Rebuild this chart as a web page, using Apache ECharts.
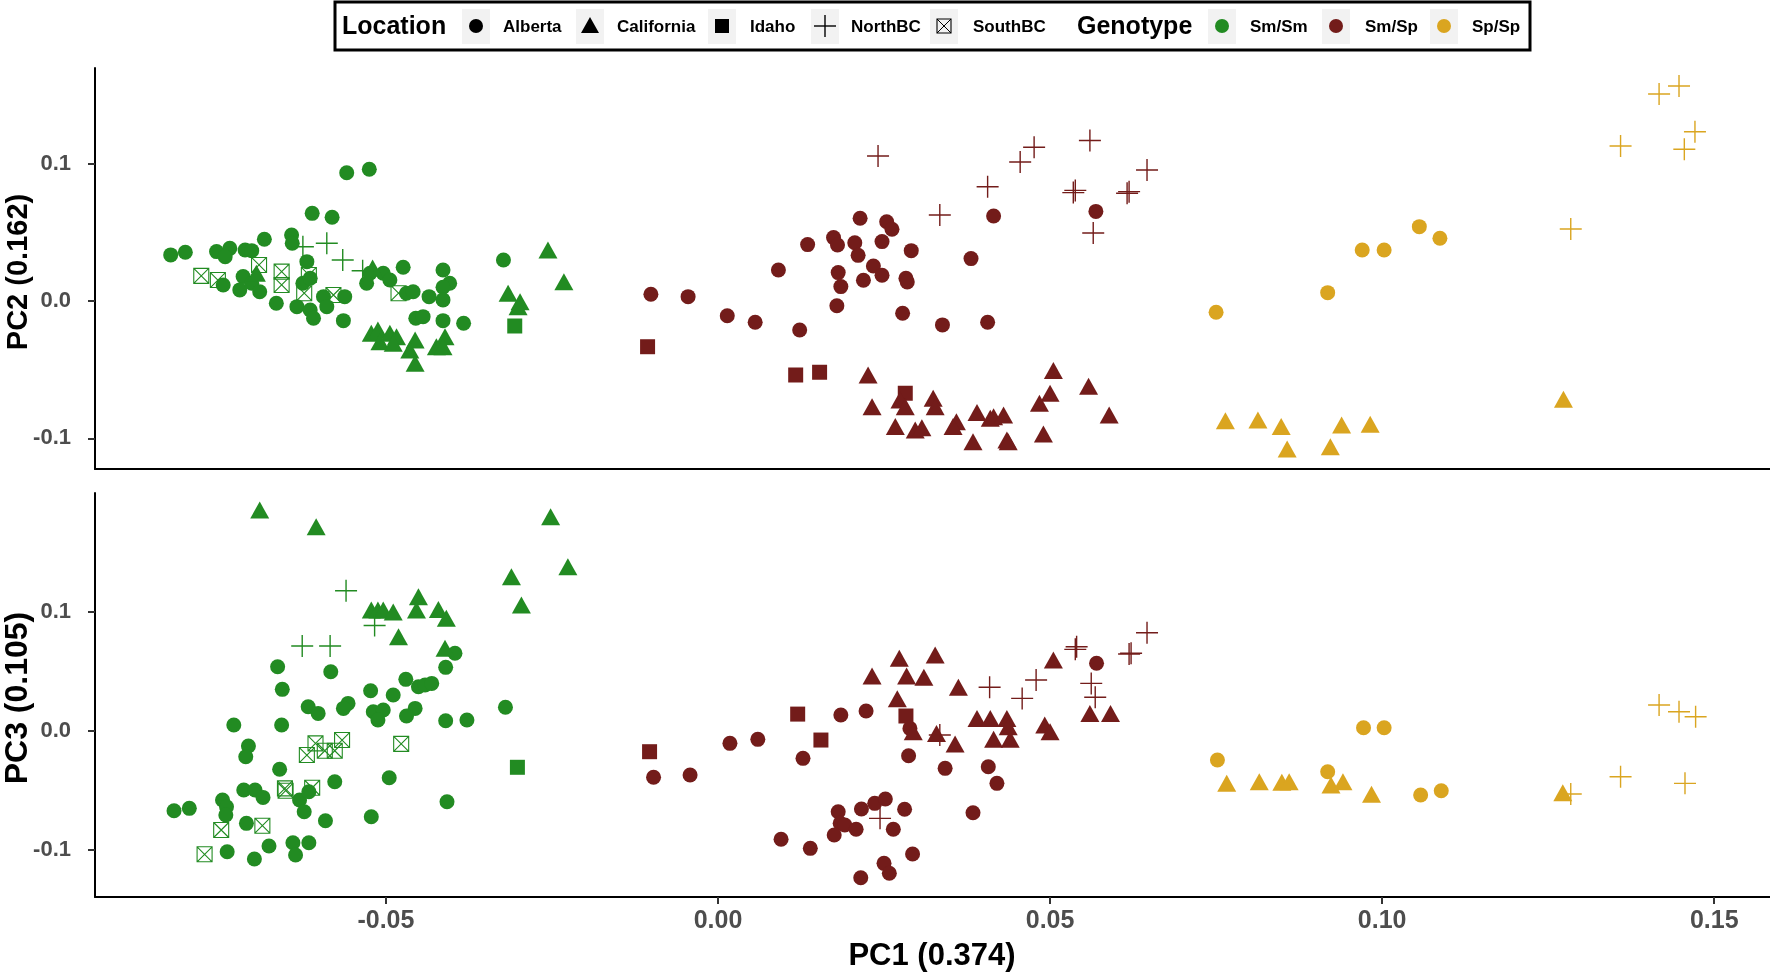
<!DOCTYPE html>
<html><head><meta charset="utf-8">
<script src="https://cdn.jsdelivr.net/npm/echarts@6/dist/echarts.min.js"></script>
<style>html,body{margin:0;padding:0;background:#fff}#c{width:1770px;height:974px}</style>
</head><body><div id="c"></div>
<script>
// ---- categories ----
const genotypes = ['Sm/Sm', 'Sm/Sp', 'Sp/Sp'];
const locations = ['Alberta', 'California', 'Idaho', 'NorthBC', 'SouthBC'];
const xTicks = [-0.05, 0.00, 0.05, 0.10, 0.15];
const yTicksTop = [-0.1, 0.0, 0.1];
const yTicksBot = [-0.1, 0.0, 0.1];
const axisTitles = ['PC1 (0.374)', 'PC2 (0.162)', 'PC3 (0.105)'];

// ---- top panel: [PC1, PC2] ----
const top_SmSm_Alberta = [[-0.0559,0.0936],[-0.0525,0.0961],[-0.0611,0.0640],[-0.0581,0.0611],[-0.0683,0.0451],[-0.0642,0.0482],[-0.0641,0.0422],[-0.0824,0.0337],[-0.0802,0.0356],[-0.0755,0.0361],[-0.0735,0.0385],[-0.0712,0.0373],[-0.0702,0.0368],[-0.0742,0.0324],[-0.0619,0.0288],[-0.0745,0.0118],[-0.0715,0.0179],[-0.0720,0.0082],[-0.0702,0.0130],[-0.0690,0.0069],[-0.0665,-0.0015],[-0.0625,0.0130],[-0.0614,0.0167],[-0.0634,-0.0040],[-0.0614,-0.0064],[-0.0609,-0.0125],[-0.0594,0.0033],[-0.0589,-0.0040],[-0.0562,0.0033],[-0.0564,-0.0142],[-0.0524,0.0203],[-0.0504,0.0203],[-0.0494,0.0154],[-0.0529,0.0130],[-0.0474,0.0247],[-0.0414,0.0227],[-0.0404,0.0130],[-0.0414,0.0101],[-0.0414,0.0009],[-0.0435,0.0033],[-0.0469,0.0058],[-0.0459,0.0069],[-0.0455,-0.0125],[-0.0444,-0.0113],[-0.0414,-0.0142],[-0.0383,-0.0161],[-0.0323,0.0300]];
const top_SmSm_California = [[-0.0695,0.0203],[-0.0522,-0.0234],[-0.0512,-0.0210],[-0.0509,-0.0295],[-0.0494,-0.0234],[-0.0484,-0.0259],[-0.0489,-0.0307],[-0.0456,-0.0283],[-0.0464,-0.0356],[-0.0456,-0.0452],[-0.0424,-0.0332],[-0.0411,-0.0259],[-0.0414,-0.0332],[-0.0256,0.0373],[-0.0232,0.0142],[-0.0316,0.0058],[-0.0298,-0.0004],[-0.0301,-0.0040],[-0.0520,0.0242]];
const top_SmSm_Idaho = [[-0.0306,-0.0181]];
const top_SmSm_NorthBC = [[-0.0625,0.0397],[-0.0589,0.0422],[-0.0565,0.0300],[-0.0535,0.0222]];
const top_SmSm_SouthBC = [[-0.0778,0.0184],[-0.0753,0.0154],[-0.0691,0.0264],[-0.0657,0.0215],[-0.0657,0.0118],[-0.0616,0.0191],[-0.0623,0.0058],[-0.0579,0.0045],[-0.0481,0.0058]];
const top_SmSp_Alberta = [[-0.0101,0.0050],[-0.0045,0.0033],[0.0014,-0.0106],[0.0056,-0.0154],[0.0123,-0.0210],[0.0091,0.0227],[0.0135,0.0412],[0.0214,0.0604],[0.0254,0.0579],[0.0262,0.0524],[0.0174,0.0463],[0.0180,0.0409],[0.0206,0.0426],[0.0211,0.0334],[0.0247,0.0434],[0.0234,0.0256],[0.0247,0.0189],[0.0219,0.0152],[0.0181,0.0208],[0.0185,0.0106],[0.0179,-0.0033],[0.0291,0.0368],[0.0283,0.0167],[0.0285,0.0140],[0.0381,0.0310],[0.0415,0.0621],[0.0278,-0.0088],[0.0338,-0.0173],[0.0406,-0.0154],[0.0569,0.0654]];
const top_SmSp_California = [[0.0226,-0.0538],[0.0232,-0.0769],[0.0274,-0.0720],[0.0282,-0.0769],[0.0324,-0.0707],[0.0327,-0.0769],[0.0267,-0.0914],[0.0297,-0.0938],[0.0307,-0.0922],[0.0359,-0.0878],[0.0354,-0.0914],[0.0390,-0.0812],[0.0410,-0.0853],[0.0415,-0.0842],[0.0430,-0.0829],[0.0384,-0.1024],[0.0435,-0.1011],[0.0437,-0.1024],[0.0505,-0.0506],[0.0500,-0.0671],[0.0484,-0.0744],[0.0490,-0.0968],[0.0558,-0.0620],[0.0589,-0.0829]];
const top_SmSp_Idaho = [[-0.0106,-0.0332],[0.0117,-0.0538],[0.0153,-0.0518],[0.0282,-0.0671]];
const top_SmSp_NorthBC = [[0.0241,0.1058],[0.0406,0.0834],[0.0455,0.1014],[0.0476,0.1121],[0.0560,0.1171],[0.0535,0.0791],[0.0538,0.0807],[0.0565,0.0497],[0.0619,0.0798],[0.0616,0.0786],[0.0646,0.0956],[0.0334,0.0628]];
const top_SpSp_Alberta = [[0.0750,-0.0081],[0.0918,0.0062],[0.0970,0.0373],[0.1003,0.0373],[0.1056,0.0543],[0.1087,0.0458]];
const top_SpSp_California = [[0.0764,-0.0871],[0.0813,-0.0866],[0.0848,-0.0914],[0.0857,-0.1077],[0.0922,-0.1060],[0.0939,-0.0902],[0.0982,-0.0897],[0.1273,-0.0715]];
const top_SpSp_NorthBC = [[0.1417,0.1510],[0.1447,0.1568],[0.1359,0.1131],[0.1471,0.1235],[0.1455,0.1107],[0.1284,0.0526]];

// ---- bottom panel: [PC1, PC3] ----
const bot_SmSm_Alberta = [[-0.0663,0.0537],[-0.0583,0.0495],[-0.0656,0.0347],[-0.0617,0.0201],[-0.0602,0.0145],[-0.0557,0.0229],[-0.0564,0.0187],[-0.0523,0.0335],[-0.0489,0.0299],[-0.0519,0.0159],[-0.0504,0.0173],[-0.0512,0.0089],[-0.0729,0.0047],[-0.0657,0.0047],[-0.0707,-0.0129],[-0.0711,-0.0219],[-0.0660,-0.0325],[-0.0577,-0.0429],[-0.0714,-0.0499],[-0.0697,-0.0499],[-0.0685,-0.0561],[-0.0819,-0.0673],[-0.0796,-0.0653],[-0.0746,-0.0583],[-0.0740,-0.0639],[-0.0741,-0.0709],[-0.0630,-0.0583],[-0.0623,-0.0682],[-0.0616,-0.0513],[-0.0710,-0.0779],[-0.0591,-0.0757],[-0.0522,-0.0724],[-0.0495,-0.0396],[-0.0739,-0.1018],[-0.0698,-0.1079],[-0.0676,-0.0970],[-0.0640,-0.0942],[-0.0636,-0.1045],[-0.0616,-0.0942],[-0.0396,0.0650],[-0.0410,0.0532],[-0.0470,0.0431],[-0.0451,0.0369],[-0.0441,0.0383],[-0.0431,0.0397],[-0.0456,0.0187],[-0.0469,0.0123],[-0.0410,0.0083],[-0.0378,0.0089],[-0.0320,0.0196],[-0.0408,-0.0597]];
const bot_SmSm_California = [[-0.0690,0.1854],[-0.0605,0.1713],[-0.0522,0.1013],[-0.0512,0.1013],[-0.0504,0.1013],[-0.0489,0.0997],[-0.0481,0.0789],[-0.0451,0.1125],[-0.0454,0.1013],[-0.0421,0.1019],[-0.0409,0.0944],[-0.0411,0.0692],[-0.0252,0.1797],[-0.0226,0.1377],[-0.0311,0.1293],[-0.0296,0.1055]];
const bot_SmSm_Idaho = [[-0.0302,-0.0308]];
const bot_SmSm_NorthBC = [[-0.0560,0.1176],[-0.0626,0.0711],[-0.0584,0.0711],[-0.0517,0.0883]];
const bot_SmSm_SouthBC = [[-0.0606,-0.0107],[-0.0619,-0.0205],[-0.0592,-0.0169],[-0.0577,-0.0169],[-0.0566,-0.0079],[-0.0652,-0.0485],[-0.0651,-0.0505],[-0.0611,-0.0480],[-0.0686,-0.0799],[-0.0748,-0.0835],[-0.0773,-0.1039],[-0.0477,-0.0111]];
const bot_SmSp_Alberta = [[-0.0097,-0.0392],[-0.0042,-0.0373],[0.0018,-0.0107],[0.0060,-0.0073],[0.0128,-0.0233],[0.0185,0.0131],[0.0223,0.0165],[0.0287,-0.0211],[0.0289,0.0019],[0.0342,-0.0317],[0.0407,-0.0303],[0.0420,-0.0443],[0.0384,-0.0690],[0.0095,-0.0913],[0.0139,-0.0989],[0.0181,-0.0682],[0.0184,-0.0779],[0.0191,-0.0793],[0.0175,-0.0877],[0.0208,-0.0829],[0.0216,-0.0659],[0.0236,-0.0611],[0.0252,-0.0575],[0.0281,-0.0661],[0.0264,-0.0829],[0.0293,-0.1037],[0.0250,-0.1115],[0.0258,-0.1199],[0.0215,-0.1236],[0.0570,0.0566]];
const bot_SmSp_California = [[0.0273,0.0608],[0.0327,0.0635],[0.0232,0.0459],[0.0284,0.0459],[0.0310,0.0448],[0.0270,0.0268],[0.0362,0.0364],[0.0294,-0.0009],[0.0329,-0.0023],[0.0357,-0.0113],[0.0390,0.0103],[0.0410,0.0103],[0.0435,0.0103],[0.0437,0.0033],[0.0415,-0.0073],[0.0440,-0.0073],[0.0492,0.0047],[0.0500,-0.0009],[0.0505,0.0593],[0.0560,0.0145],[0.0591,0.0145]];
const bot_SmSp_Idaho = [[-0.0103,-0.0177],[0.0120,0.0139],[0.0155,-0.0079],[0.0283,0.0123]];
const bot_SmSp_NorthBC = [[0.0540,0.0705],[0.0538,0.0683],[0.0409,0.0364],[0.0479,0.0425],[0.0458,0.0271],[0.0562,0.0397],[0.0568,0.0280],[0.0334,-0.0037],[0.0244,-0.0737],[0.0646,0.0823],[0.0622,0.0650],[0.0619,0.0644]];
const bot_SpSp_Alberta = [[0.0752,-0.0247],[0.0972,0.0024],[0.1003,0.0024],[0.0918,-0.0345],[0.1058,-0.0541],[0.1089,-0.0505]];
const bot_SpSp_California = [[0.0766,-0.0443],[0.0815,-0.0429],[0.0849,-0.0434],[0.0860,-0.0429],[0.0923,-0.0457],[0.0941,-0.0429],[0.0984,-0.0535],[0.1272,-0.0522]];
const bot_SpSp_NorthBC = [[0.1284,-0.0533],[0.1359,-0.0387],[0.1417,0.0215],[0.1447,0.0159],[0.1472,0.0117],[0.1456,-0.0443]];

// ---- styling ----
const FONT = '"Liberation Sans", Arial, sans-serif';
const genoColor = {'Sm/Sm': '#228B22', 'Sm/Sp': '#731C1A', 'Sp/Sp': '#DAA520'};
const CROSS = 'path://M10,0 L10,20 M0,10 L20,10';
const BOXX = 'path://M0,0 L20,0 L20,20 L0,20 Z M0,0 L20,20 M20,0 L0,20';
const locStyle = {
  Alberta: c => ({symbol: 'circle', symbolSize: 15, itemStyle: {color: c, opacity: 1}}),
  California: c => ({symbol: 'triangle', symbolSize: [19, 17], itemStyle: {color: c, opacity: 1}}),
  Idaho: c => ({symbol: 'rect', symbolSize: 15, itemStyle: {color: c, opacity: 1}}),
  NorthBC: c => ({symbol: CROSS, symbolSize: 22, itemStyle: {color: 'rgba(0,0,0,0)', borderColor: c, borderWidth: 1.4, opacity: 1}}),
  SouthBC: c => ({symbol: BOXX, symbolSize: 15, itemStyle: {color: 'rgba(0,0,0,0)', borderColor: c, borderWidth: 1.1, opacity: 1}})
};

const panels = [
  {
    'Sm/Sm': {Alberta: top_SmSm_Alberta, California: top_SmSm_California, Idaho: top_SmSm_Idaho, NorthBC: top_SmSm_NorthBC, SouthBC: top_SmSm_SouthBC},
    'Sm/Sp': {Alberta: top_SmSp_Alberta, California: top_SmSp_California, Idaho: top_SmSp_Idaho, NorthBC: top_SmSp_NorthBC},
    'Sp/Sp': {Alberta: top_SpSp_Alberta, California: top_SpSp_California, NorthBC: top_SpSp_NorthBC}
  },
  {
    'Sm/Sm': {Alberta: bot_SmSm_Alberta, California: bot_SmSm_California, Idaho: bot_SmSm_Idaho, NorthBC: bot_SmSm_NorthBC, SouthBC: bot_SmSm_SouthBC},
    'Sm/Sp': {Alberta: bot_SmSp_Alberta, California: bot_SmSp_California, Idaho: bot_SmSp_Idaho, NorthBC: bot_SmSp_NorthBC},
    'Sp/Sp': {Alberta: bot_SpSp_Alberta, California: bot_SpSp_California, NorthBC: bot_SpSp_NorthBC}
  }
];

const series = [];
panels.forEach((panel, p) => {
  ['SouthBC', 'Alberta', 'Idaho', 'California', 'NorthBC'].forEach(loc => {
    genotypes.forEach(g => {
      const d = panel[g][loc];
      if (!d) return;
      series.push(Object.assign({
        type: 'scatter', name: g + ' ' + loc, xAxisIndex: p, yAxisIndex: p,
        data: d, silent: true, emphasis: {disabled: true}, animation: false
      }, locStyle[loc](genoColor[g])));
    });
  });
});

const axisLine = {show: true, onZero: false, lineStyle: {color: '#000', width: 2}};
const xLabelStyle = {fontFamily: FONT, fontWeight: 'bold', fontSize: 25, color: '#4D4D4D'};
const yLabelStyle = {fontFamily: FONT, fontWeight: 'bold', fontSize: 22, color: '#4D4D4D'};
const X_MIN = -0.0938, X_MAX = 0.1584;

const option = {
  backgroundColor: '#fff',
  animation: false,
  grid: [
    {left: 95, top: 68, right: 0, height: 401},
    {left: 95, top: 493, right: 0, height: 404}
  ],
  xAxis: [
    {gridIndex: 0, type: 'value', min: X_MIN, max: X_MAX, axisLine, axisTick: {show: false}, axisLabel: {show: false}, splitLine: {show: false}},
    {gridIndex: 1, type: 'value', min: X_MIN, max: X_MAX, axisLine,
      axisTick: {show: true, length: 7, lineStyle: {color: '#333', width: 2}, customValues: xTicks},
      axisLabel: Object.assign({customValues: xTicks, margin: 12, formatter: v => v.toFixed(2)}, xLabelStyle),
      splitLine: {show: false}}
  ],
  yAxis: [
    {gridIndex: 0, type: 'value', min: -0.1223, max: 0.1699, axisLine,
      axisTick: {show: true, length: 7, lineStyle: {color: '#333', width: 2}, customValues: yTicksTop},
      axisLabel: Object.assign({customValues: yTicksTop, margin: 24, formatter: v => v.toFixed(1)}, yLabelStyle),
      splitLine: {show: false}},
    {gridIndex: 1, type: 'value', min: -0.1398, max: 0.1997, axisLine,
      axisTick: {show: true, length: 7, lineStyle: {color: '#333', width: 2}, customValues: yTicksBot},
      axisLabel: Object.assign({customValues: yTicksBot, margin: 24, formatter: v => v.toFixed(1)}, yLabelStyle),
      splitLine: {show: false}}
  ],
  series,
  graphic: []
};

// axis titles
const g = option.graphic;
g.push({type: 'text', x: 932, y: 956, style: {text: axisTitles[0], font: 'bold 31px ' + FONT, fill: '#000', align: 'center', verticalAlign: 'middle', textAlign: 'center', textVerticalAlign: 'middle'}});
g.push({type: 'text', x: 19, y: 272, rotation: Math.PI / 2, style: {text: axisTitles[1], font: 'bold 29px ' + FONT, fill: '#000', align: 'center', verticalAlign: 'middle', textAlign: 'center', textVerticalAlign: 'middle'}});
g.push({type: 'text', x: 18, y: 698, rotation: Math.PI / 2, style: {text: axisTitles[2], font: 'bold 32px ' + FONT, fill: '#000', align: 'center', verticalAlign: 'middle', textAlign: 'center', textVerticalAlign: 'middle'}});

// legend
g.push({type: 'rect', shape: {x: 335, y: 2, width: 1195, height: 48}, style: {fill: '#fff', stroke: '#000', lineWidth: 3}});
const txt = (x, t, size) => ({type: 'text', x, y: 27, style: {text: t, font: 'bold ' + size + 'px ' + FONT, fill: '#000', align: 'left', verticalAlign: 'middle', textAlign: 'left', textVerticalAlign: 'middle'}});
const key = cx => ({type: 'rect', shape: {x: cx - 14, y: 9, width: 28, height: 35}, style: {fill: '#F2F2F2'}});
g.push(txt(342, 'Location', 25));
const locKeyX = [476, 590, 722, 825, 944];
const locTextX = [503, 617, 750, 851, 973];
locations.forEach((loc, i) => {
  const cx = locKeyX[i], cy = 26;
  g.push(key(cx));
  if (loc === 'Alberta') g.push({type: 'circle', shape: {cx, cy, r: 7}, style: {fill: '#000'}});
  if (loc === 'California') g.push({type: 'polygon', shape: {points: [[cx, cy - 9], [cx - 9, cy + 7], [cx + 9, cy + 7]]}, style: {fill: '#000'}});
  if (loc === 'Idaho') g.push({type: 'rect', shape: {x: cx - 7, y: cy - 7, width: 14, height: 14}, style: {fill: '#000'}});
  if (loc === 'NorthBC') {
    g.push({type: 'line', shape: {x1: cx - 11, y1: cy, x2: cx + 11, y2: cy}, style: {stroke: '#000', lineWidth: 1.4}});
    g.push({type: 'line', shape: {x1: cx, y1: cy - 11, x2: cx, y2: cy + 11}, style: {stroke: '#000', lineWidth: 1.4}});
  }
  if (loc === 'SouthBC') {
    g.push({type: 'rect', shape: {x: cx - 7, y: cy - 7, width: 14, height: 14}, style: {fill: 'none', stroke: '#000', lineWidth: 1.1}});
    g.push({type: 'line', shape: {x1: cx - 7, y1: cy - 7, x2: cx + 7, y2: cy + 7}, style: {stroke: '#000', lineWidth: 1}});
    g.push({type: 'line', shape: {x1: cx + 7, y1: cy - 7, x2: cx - 7, y2: cy + 7}, style: {stroke: '#000', lineWidth: 1}});
  }
  g.push(txt(locTextX[i], loc, 17));
});
g.push(txt(1077, 'Genotype', 25));
const genoKeyX = [1222, 1336, 1444];
const genoTextX = [1250, 1365, 1472];
genotypes.forEach((gt, i) => {
  g.push(key(genoKeyX[i]));
  g.push({type: 'circle', shape: {cx: genoKeyX[i], cy: 26, r: 7}, style: {fill: genoColor[gt]}});
  g.push(txt(genoTextX[i], gt, 17));
});

const chart = echarts.init(document.getElementById('c'), null, {renderer: 'canvas'});
chart.setOption(option);
</script>
</body></html>
